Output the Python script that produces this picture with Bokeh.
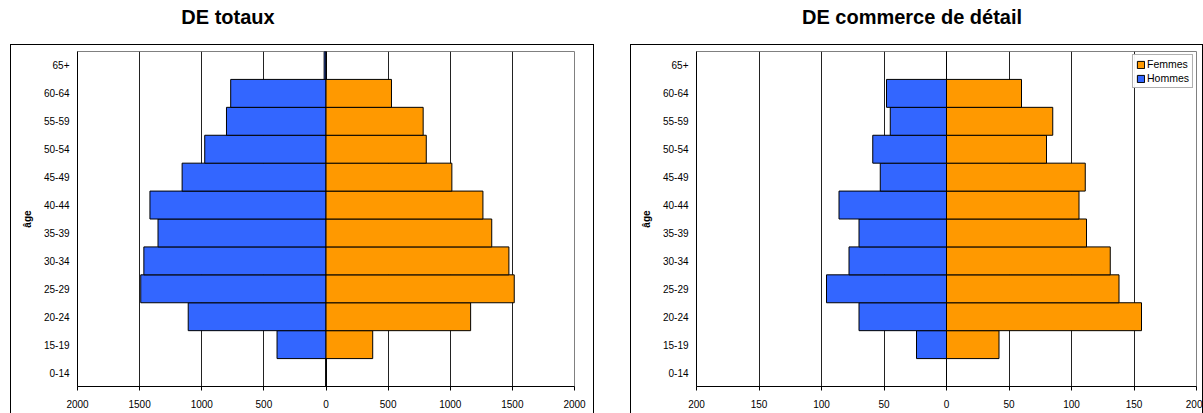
from bokeh.plotting import figure
from bokeh.models import (Range1d, FactorRange, FixedTicker, Div, Spacer, Legend, LegendItem)
from bokeh.layouts import row, column
from bokeh.embed import file_html
from bokeh.resources import INLINE

ages = ["0-14", "15-19", "20-24", "25-29", "30-34", "35-39", "40-44",
        "45-49", "50-54", "55-59", "60-64", "65+"]
tot_hommes = [0, 394, 1109, 1491, 1466, 1352, 1417, 1158, 976, 801, 767, 15]
tot_femmes = [0, 376, 1164, 1515, 1472, 1334, 1263, 1013, 807, 782, 527, 3]
det_hommes = [0, 24, 70, 96, 78, 70, 86, 53, 59, 45, 48, 0]
det_femmes = [0, 42, 156, 138, 131, 112, 106, 111, 80, 85, 60, 0]
tot_ticks = [-2000, -1500, -1000, -500, 0, 500, 1000, 1500, 2000]
det_ticks = [-200, -150, -100, -50, 0, 50, 100, 150, 200]

BLUE = "#3366FF"
ORANGE = "#FF9900"
FONT = "Liberation Sans"


def make_fig(hommes, femmes, ticks, width, bl, br, with_legend):
    lim = ticks[-1]
    p = figure(width=width, height=369, output_backend="svg", toolbar_location=None,
               x_range=Range1d(-lim, lim), y_range=FactorRange(*ages, range_padding=0),
               min_border_left=bl, min_border_right=br, min_border_top=6,
               min_border_bottom=28)
    neg = [-h for h in hommes]
    rh = p.hbar(y=ages, left=neg, right=[0] * len(ages), height=1.0,
                fill_color=BLUE, line_color="black", line_width=1)
    rf = p.hbar(y=ages, left=[0] * len(ages), right=femmes, height=1.0,
                fill_color=ORANGE, line_color="black", line_width=1)
    p.xaxis.ticker = FixedTicker(ticks=ticks)
    p.xaxis.major_label_overrides = {t: str(abs(t)) for t in ticks}
    p.xaxis.major_tick_in = 0
    p.xaxis.major_tick_out = 4
    p.xaxis.minor_tick_line_color = None
    p.xaxis.major_label_text_font = FONT
    p.xaxis.major_label_text_font_size = "10px"
    p.xaxis.major_label_text_color = "black"
    p.xaxis.axis_line_color = "black"
    p.xaxis.major_label_standoff = 9
    p.yaxis.major_tick_in = 0
    p.yaxis.major_tick_out = 0
    p.yaxis.major_label_text_font = FONT
    p.yaxis.major_label_text_font_size = "10px"
    p.yaxis.major_label_text_color = "black"
    p.yaxis.major_label_standoff = 8
    p.yaxis.axis_line_color = "black"
    p.yaxis.axis_label = "âge"
    p.yaxis.axis_label_text_font = FONT
    p.yaxis.axis_label_text_font_size = "10px"
    p.yaxis.axis_label_text_font_style = "bold"
    p.yaxis.axis_label_text_color = "black"
    p.yaxis.axis_label_standoff = 8
    p.xgrid.ticker = FixedTicker(ticks=ticks)
    p.xgrid.grid_line_color = "#222222"
    p.xgrid.grid_line_width = 1
    p.ygrid.grid_line_color = None
    p.outline_line_color = "#808080"
    p.outline_line_width = 1
    p.background_fill_color = "white"
    p.border_fill_color = "white"
    p.styles = {"border-top": "1px solid black", "border-left": "1px solid black",
                "border-right": "1px solid black"}
    if with_legend:
        leg = Legend(items=[LegendItem(label="Femmes", renderers=[rf]),
                            LegendItem(label="Hommes", renderers=[rh])],
                     location="top_right")
        leg.label_text_font = FONT
        leg.label_text_font_size = "10.5px"
        leg.label_text_color = "black"
        leg.glyph_width = 9
        leg.glyph_height = 9
        leg.label_height = 12
        leg.label_standoff = 2
        leg.spacing = 2
        leg.padding = 3
        leg.margin = 3
        leg.border_line_color = "#606060"
        leg.border_line_width = 1
        p.add_layout(leg)
    return p


p1 = make_fig(tot_hommes, tot_femmes, tot_ticks, 584, 66, 21, False)
p2 = make_fig(det_hommes, det_femmes, det_ticks, 573, 65, 8, True)

title_style = {"font-family": FONT, "font-size": "20px", "font-weight": "bold",
               "color": "black", "text-align": "center", "line-height": "34px",
               "margin": "0", "padding": "0"}
t1 = Div(text="DE totaux", width=436, height=44, styles=title_style)
t2 = Div(text="DE commerce de détail", width=564, height=44, styles=title_style)

top = row(Spacer(width=10, height=44), t1, Spacer(width=184, height=44), t2)
bottom = row(Spacer(width=10, height=369), p1, Spacer(width=36, height=369), p2)
layout = column(top, bottom)

open("out.html", "w").write(file_html(layout, INLINE))
